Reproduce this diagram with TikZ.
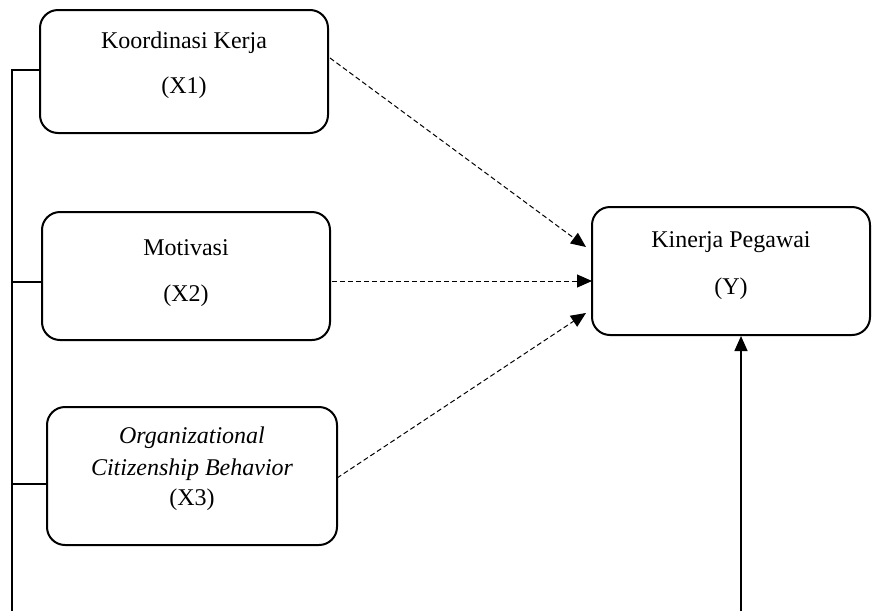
\documentclass[tikz,border=0pt]{standalone}
\usepackage{fontspec}
\setmainfont{Liberation Serif}
\usetikzlibrary{arrows.meta,calc}
\begin{document}
\begin{tikzpicture}[x=1pt,y=-1pt,
  varbox/.style={draw,line width=2pt,rounded corners=18pt,inner sep=0pt},
  lbl/.style={font=\fontsize{24}{28}\selectfont,inner sep=0pt,anchor=center},
  link/.style={line width=1.4pt},
  dasharrow/.style={line width=1pt,dash pattern=on 5pt off 3pt,-{Triangle[length=15pt,width=13pt]}},
  solidarrow/.style={line width=1.4pt,-{Triangle[length=15pt,width=13pt]}}]
\useasboundingbox (0,0) rectangle (872,611);
% boxes
\node[varbox,minimum width=288pt,minimum height=123pt] (x1) at (184,71.5) {};
\node[varbox,minimum width=288pt,minimum height=128pt] (x2) at (186,276) {};
\node[varbox,minimum width=290pt,minimum height=138pt] (x3) at (192,476) {};
\node[varbox,minimum width=278pt,minimum height=128pt] (y) at (731,271) {};
% texts
\node[lbl] (t1a) at (184,43) {Koordinasi Kerja};
\node[lbl] (t1b) at (184,88) {(X1)};
\node[lbl] (t2a) at (186,248) {Motivasi};
\node[lbl] (t2b) at (186,296) {(X2)};
\node[lbl] (t3a) at (192,438) {\itshape Organizational};
\node[lbl] (t3b) at (192,470) {\itshape Citizenship Behavior};
\node[lbl] (t3c) at (192,500) {(X3)};
\node[lbl] (tya) at (731,242) {Kinerja Pegawai};
\node[lbl] (tyb) at (731,289) {(Y)};
% left bracket line
\coordinate (b1) at (12,70);
\coordinate (b2) at (12,282);
\coordinate (b3) at (12,484);
\coordinate (bb) at (12,611);
\draw[link] (x1.west |- b1) -- (b1) -- (bb);
\draw[link] (b2) -- (x2.west |- b2);
\draw[link] (b3) -- (x3.west |- b3);
% bottom arrow
\coordinate (rb) at (741,611);
\draw[solidarrow] (rb) -- (rb |- y.south);
% dashed arrows
\coordinate (s1) at (330,58);
\coordinate (e1) at (586,247);
\coordinate (s2) at (332,281);
\coordinate (e2) at (592,281);
\coordinate (s3) at (337,478);
\coordinate (e3) at (586,313);
\draw[dasharrow] (s1) -- (e1);
\draw[dasharrow] (s2) -- (e2);
\draw[dasharrow] (s3) -- (e3);
\end{tikzpicture}
\end{document}
